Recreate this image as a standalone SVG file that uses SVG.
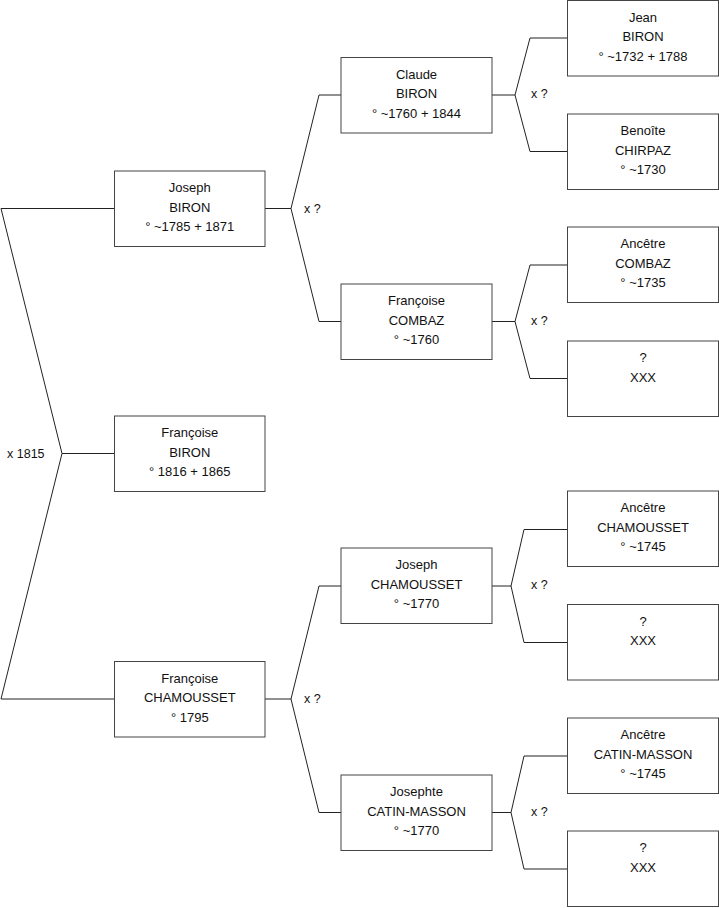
<svg xmlns="http://www.w3.org/2000/svg" width="719" height="908" viewBox="0 0 719 908">
<style>
.box{fill:#fff;stroke:#444;stroke-width:1}
.t{font-family:"Liberation Sans",Arial,sans-serif;font-size:13px;fill:#111;text-anchor:middle}
.lbl{font-family:"Liberation Sans",Arial,sans-serif;font-size:12.5px;fill:#111}
.c{fill:none;stroke:#222;stroke-width:1}
</style>
<rect width="719" height="908" fill="#fff"/>
<g id="connectors">
<polyline class="c" points="114.5,208.5 1,208.5 62,453.5 1,699 114.5,699"/>
<line class="c" x1="62" y1="453.5" x2="114.5" y2="453.5"/>
<line class="c" x1="265" y1="208.5" x2="291" y2="208.5"/>
<polyline class="c" points="341,95 319,95 291,208.5 319,321.5 341,321.5"/>
<line class="c" x1="265" y1="699" x2="291" y2="699"/>
<polyline class="c" points="341,586 319,586 291,699 319,812.5 341,812.5"/>
<line class="c" x1="492" y1="95" x2="515" y2="95"/>
<polyline class="c" points="567.5,38 530,38 515,95 530,151.5 567.5,151.5"/>
<line class="c" x1="492" y1="321.5" x2="515" y2="321.5"/>
<polyline class="c" points="567.5,265 530,265 515,321.5 530,378.5 567.5,378.5"/>
<line class="c" x1="492" y1="586" x2="511" y2="586"/>
<polyline class="c" points="567.5,529.5 524,529.5 511,586 524,642.5 567.5,642.5"/>
<line class="c" x1="492" y1="812.5" x2="511" y2="812.5"/>
<polyline class="c" points="567.5,756 524,756 511,812.5 524,869 567.5,869"/>
<text class="lbl" x="7" y="458">x 1815</text>
<text class="lbl" x="304" y="213">x ?</text>
<text class="lbl" x="304" y="703">x ?</text>
<text class="lbl" x="531" y="98">x ?</text>
<text class="lbl" x="531" y="325">x ?</text>
<text class="lbl" x="531" y="589">x ?</text>
<text class="lbl" x="531" y="816">x ?</text>
</g>
<g id="joseph-biron">
<rect class="box" x="114.5" y="171" width="150.5" height="75.5"/>
<text class="t" x="189.75" y="192">Joseph</text>
<text class="t" x="189.75" y="211.5">BIRON</text>
<text class="t" x="189.75" y="231">° ~1785 + 1871</text>
</g>
<g id="francoise-biron">
<rect class="box" x="114.5" y="416" width="150.5" height="75.5"/>
<text class="t" x="189.75" y="437">Françoise</text>
<text class="t" x="189.75" y="456.5">BIRON</text>
<text class="t" x="189.75" y="476">° 1816 + 1865</text>
</g>
<g id="francoise-chamousset">
<rect class="box" x="114.5" y="661.5" width="150.5" height="75.5"/>
<text class="t" x="189.75" y="682.5">Françoise</text>
<text class="t" x="189.75" y="702">CHAMOUSSET</text>
<text class="t" x="189.75" y="721.5">° 1795</text>
</g>
<g id="claude-biron">
<rect class="box" x="341" y="57.5" width="151" height="75.5"/>
<text class="t" x="416.5" y="78.5">Claude</text>
<text class="t" x="416.5" y="98">BIRON</text>
<text class="t" x="416.5" y="117.5">° ~1760 + 1844</text>
</g>
<g id="francoise-combaz">
<rect class="box" x="341" y="284" width="151" height="75.5"/>
<text class="t" x="416.5" y="305">Françoise</text>
<text class="t" x="416.5" y="324.5">COMBAZ</text>
<text class="t" x="416.5" y="344">° ~1760</text>
</g>
<g id="joseph-chamousset">
<rect class="box" x="341" y="548" width="151" height="75.5"/>
<text class="t" x="416.5" y="569">Joseph</text>
<text class="t" x="416.5" y="588.5">CHAMOUSSET</text>
<text class="t" x="416.5" y="608">° ~1770</text>
</g>
<g id="josephte-catin-masson">
<rect class="box" x="341" y="775" width="151" height="75.5"/>
<text class="t" x="416.5" y="796">Josephte</text>
<text class="t" x="416.5" y="815.5">CATIN-MASSON</text>
<text class="t" x="416.5" y="835">° ~1770</text>
</g>
<g id="jean-biron">
<rect class="box" x="567.5" y="0.5" width="151" height="75.5"/>
<text class="t" x="643" y="21.5">Jean</text>
<text class="t" x="643" y="41">BIRON</text>
<text class="t" x="643" y="60.5">° ~1732 + 1788</text>
</g>
<g id="benoite-chirpaz">
<rect class="box" x="567.5" y="114" width="151" height="75.5"/>
<text class="t" x="643" y="135">Benoîte</text>
<text class="t" x="643" y="154.5">CHIRPAZ</text>
<text class="t" x="643" y="174">° ~1730</text>
</g>
<g id="ancetre-combaz">
<rect class="box" x="567.5" y="227" width="151" height="75.5"/>
<text class="t" x="643" y="248">Ancêtre</text>
<text class="t" x="643" y="267.5">COMBAZ</text>
<text class="t" x="643" y="287">° ~1735</text>
</g>
<g id="xxx-1">
<rect class="box" x="567.5" y="341" width="151" height="75.5"/>
<text class="t" x="643" y="362">?</text>
<text class="t" x="643" y="381.5">XXX</text>
</g>
<g id="ancetre-chamousset">
<rect class="box" x="567.5" y="491" width="151" height="75.5"/>
<text class="t" x="643" y="512">Ancêtre</text>
<text class="t" x="643" y="531.5">CHAMOUSSET</text>
<text class="t" x="643" y="551">° ~1745</text>
</g>
<g id="xxx-2">
<rect class="box" x="567.5" y="604.5" width="151" height="75.5"/>
<text class="t" x="643" y="625.5">?</text>
<text class="t" x="643" y="645">XXX</text>
</g>
<g id="ancetre-catin-masson">
<rect class="box" x="567.5" y="718" width="151" height="75.5"/>
<text class="t" x="643" y="739">Ancêtre</text>
<text class="t" x="643" y="758.5">CATIN-MASSON</text>
<text class="t" x="643" y="778">° ~1745</text>
</g>
<g id="xxx-3">
<rect class="box" x="567.5" y="831" width="151" height="75.5"/>
<text class="t" x="643" y="852">?</text>
<text class="t" x="643" y="871.5">XXX</text>
</g>
</svg>
